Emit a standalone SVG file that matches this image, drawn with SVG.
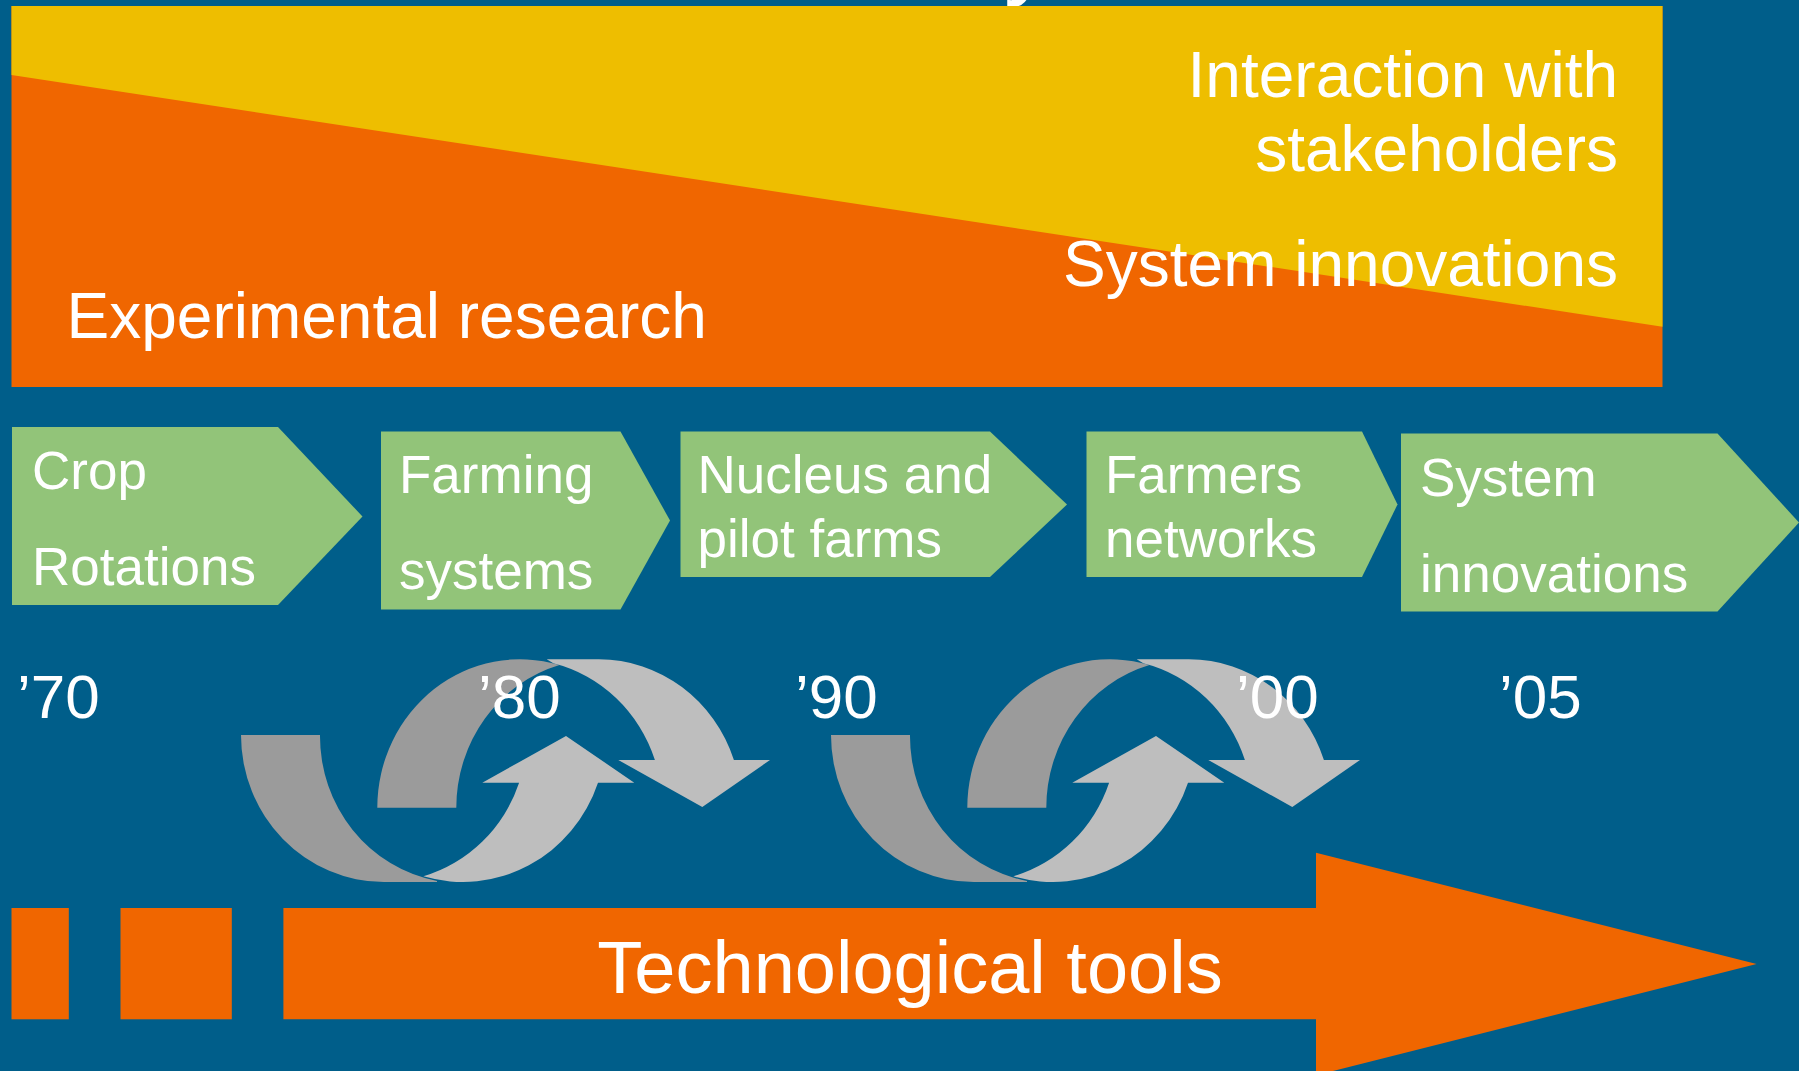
<svg xmlns="http://www.w3.org/2000/svg" width="1799" height="1071" viewBox="0 0 1799 1071">
  <style>
    text { font-family: "Liberation Sans", Arial, sans-serif; fill: #FFFFFF; }
    .band { font-size: 64px; }
    .step { font-size: 53px; }
    .year { font-size: 62px; }
    .tools { font-size: 74px; }
    .chev { fill: #92C479; }
    .orange { fill: #F06600; }
    .dark { fill: #9B9B9B; }
    .light { fill: #BEBEBE; }
  </style>
  <defs>
    <g id="cycle">
      <path class="dark" d="M241,735 A142.9,147 0 0 0 383.9,882 L437,882 L437,880.9 A142.9,147 0 0 1 320,735 Z"/>
      <path class="light" d="M423.4,876.3 A142.9,147 0 0 0 598,782.7 L634.3,782.7 L566,736 L482.3,782.7 L519.1,782.7 A142.9,147 0 0 1 423.4,876.3 Z"/>
      <path class="dark" d="M377.3,807.7 A142.6,148.4 0 0 1 559.4,665.1 A142.6,148.4 0 0 0 456.3,807.7 Z"/>
      <path class="light" d="M546.7,659.3 L598.9,659.3 A142.6,148.4 0 0 1 733.9,760 L770,760 L702.3,807 L618.3,760 L654.9,760 A142.6,148.4 0 0 0 553.3,663.3 Z"/>
    </g>
  </defs>
  <rect x="0" y="0" width="1799" height="1071" fill="#005E8A"/>
  <text x="1004" y="-14" style="font-size:100px">y</text>

  <g id="approach-band">
    <rect class="orange" x="11.5" y="6" width="1651" height="381"/>
    <polygon fill="#EEBE00" points="11.5,6 1662.5,6 1662.5,326.7 11.5,75"/>
    <text class="band" x="1618" y="96.7" text-anchor="end">Interaction with</text>
    <text class="band" x="1618" y="170.7" text-anchor="end">stakeholders</text>
    <text class="band" x="1618" y="286" text-anchor="end">System innovations</text>
    <text class="band" x="66.5" y="338">Experimental research</text>
  </g>

  <g id="step-crop-rotations">
    <polygon class="chev" points="12,427 278,427 362.5,516.5 278,605 12,605"/>
    <text class="step" x="32" y="489">Crop</text>
    <text class="step" x="32" y="585">Rotations</text>
  </g>
  <g id="step-farming-systems">
    <polygon class="chev" points="381,431.5 620.5,431.5 670,520.5 620.5,609.5 381,609.5"/>
    <text class="step" x="399" y="493">Farming</text>
    <text class="step" x="399" y="589">systems</text>
  </g>
  <g id="step-nucleus-pilot-farms">
    <polygon class="chev" points="680.5,431.5 990,431.5 1067,504.5 990,577 680.5,577"/>
    <text class="step" x="697.5" y="493">Nucleus and</text>
    <text class="step" x="697.5" y="556.5">pilot farms</text>
  </g>
  <g id="step-farmers-networks">
    <polygon class="chev" points="1086.5,431.5 1362,431.5 1397.5,504.5 1362,577 1086.5,577"/>
    <text class="step" x="1105" y="493">Farmers</text>
    <text class="step" x="1105" y="556.5">networks</text>
  </g>
  <g id="step-system-innovations">
    <polygon class="chev" points="1401,433.5 1717.5,433.5 1799,522.5 1717.5,611.5 1401,611.5"/>
    <text class="step" x="1420" y="496">System</text>
    <text class="step" x="1420" y="591.5">innovations</text>
  </g>

  <g id="connectors">
    <use href="#cycle"/>
    <use href="#cycle" transform="translate(590,0)"/>
  </g>

  <g id="years">
    <text class="year" x="17" y="718">’70</text>
    <text class="year" x="478" y="718">’80</text>
    <text class="year" x="795" y="718">’90</text>
    <text class="year" x="1236" y="718">’00</text>
    <text class="year" x="1499" y="718">’05</text>
  </g>

  <g id="technological-tools">
    <rect class="orange" x="11.5" y="908" width="57.3" height="111.3"/>
    <rect class="orange" x="120.5" y="908" width="111.3" height="111.3"/>
    <polygon class="orange" points="283.4,908 1316,908 1316,852.7 1756.6,964 1316,1075.3 1316,1019.3 283.4,1019.3"/>
    <text class="tools" x="910" y="993" text-anchor="middle">Technological tools</text>
  </g>
</svg>
